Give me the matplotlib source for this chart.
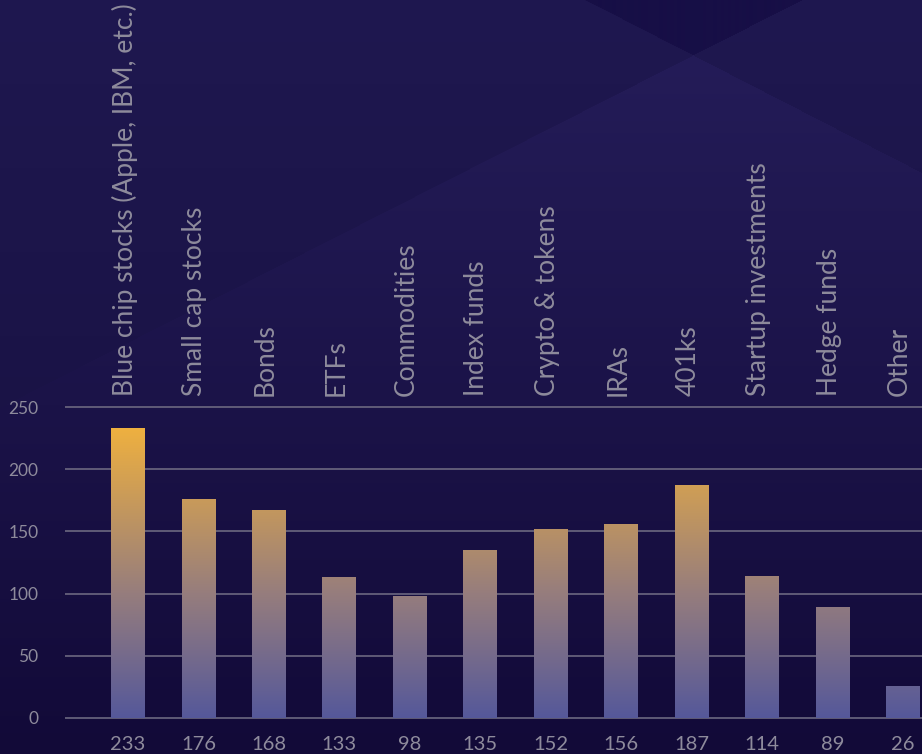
import numpy as np
import matplotlib
matplotlib.use('Agg')
import matplotlib.pyplot as plt
from matplotlib.colors import LinearSegmentedColormap

"""
Bar chart of investment types held, on a dark faceted backdrop.
"""

categories = ['Blue chip stocks (Apple, IBM, etc.)', 'Small cap stocks', 'Bonds', 'ETFs',
              'Commodities', 'Index funds', 'Crypto & tokens', 'IRAs', '401ks',
              'Startup investments', 'Hedge funds', 'Other']
counts = [233, 176, 167, 113, 98, 135, 152, 156, 187, 114, 89, 26]
count_labels = ['233', '176', '168', '133', '98', '135', '152', '156', '187', '114', '89', '26']
y_ticks = [0, 50, 100, 150, 200, 250]

W, H = 922, 754
TEXT = '#8e8b9c'
FONT = ['Lato', 'DejaVu Sans']


def background(w, h):
    # faceted dark navy backdrop: two diagonals crossing near the top
    yy, xx = np.mgrid[0:h, 0:w].astype(float)
    ya = 55 + (692 - xx) * 0.509
    yb = 55 + (xx - 692) * 0.514
    t = np.clip(yy / h, 0, 1)[..., None]
    side = np.array([31, 24, 80]) * (1 - t) + np.array([22, 15, 62]) * t
    tb = np.clip((yy - 55) / (h - 55), 0, 1)[..., None]
    bottom = np.array([36, 28, 88]) * (1 - tb) + np.array([18, 10, 56]) * tb
    img = side.copy()
    above_a = yy < ya
    above_b = yy < yb
    img[above_a & above_b] = [23, 15, 70]
    mask = ~above_a & ~above_b
    img[mask] = bottom[mask]
    return img / 255


fig = plt.figure(figsize=(W / 100, H / 100), dpi=100)
bg = fig.add_axes([0, 0, 1, 1], zorder=0)
bg.imshow(background(W, H), aspect='auto', extent=[0, 1, 0, 1])
bg.axis('off')

ax = fig.add_axes([65 / W, 36 / H, 1 - 65 / W, 311 / H], zorder=1)
ax.patch.set_alpha(0)

cmap = LinearSegmentedColormap.from_list(
    'bars', [(0, '#55589a'), (0.4, '#967d7d'), (0.93, '#eeb040'), (1.0, '#f5b535')])
grad = np.linspace(0, 250, 512).reshape(-1, 1)
x = np.arange(len(categories))
bw = 0.48

xmin, xmax = -0.894, 11.27
ax.hlines(y_ticks, xmin, xmax, color='#6c6880', lw=1.2, zorder=2, clip_on=False)

for i, v in enumerate(counts):
    bar = ax.bar(x[i], v, width=bw, color='none', zorder=3)[0]
    im = ax.imshow(grad, cmap=cmap, vmin=0, vmax=250, origin='lower', aspect='auto',
                   extent=[x[i] - bw / 2, x[i] + bw / 2, 0, 250], zorder=3)
    im.set_clip_path(bar)
    ax.text(x[i], -14.5, count_labels[i], ha='center', va='top', color=TEXT,
            fontsize=14.5, family=FONT, clip_on=False)
    ax.text(x[i] - 0.05, 259, categories[i], rotation=90, ha='center', va='bottom',
            color=TEXT, fontsize=19, family=FONT, clip_on=False)

ax.set_xlim(xmin, xmax)
ax.set_ylim(0, 250)
ax.set_xticks([])
ax.set_yticks(y_ticks)
ax.set_yticklabels([str(t) for t in y_ticks], family=FONT)
ax.tick_params(axis='y', length=0, pad=19, labelcolor=TEXT, labelsize=12.5)
for s in ax.spines.values():
    s.set_visible(False)

fig.savefig('out.png', dpi=100)
